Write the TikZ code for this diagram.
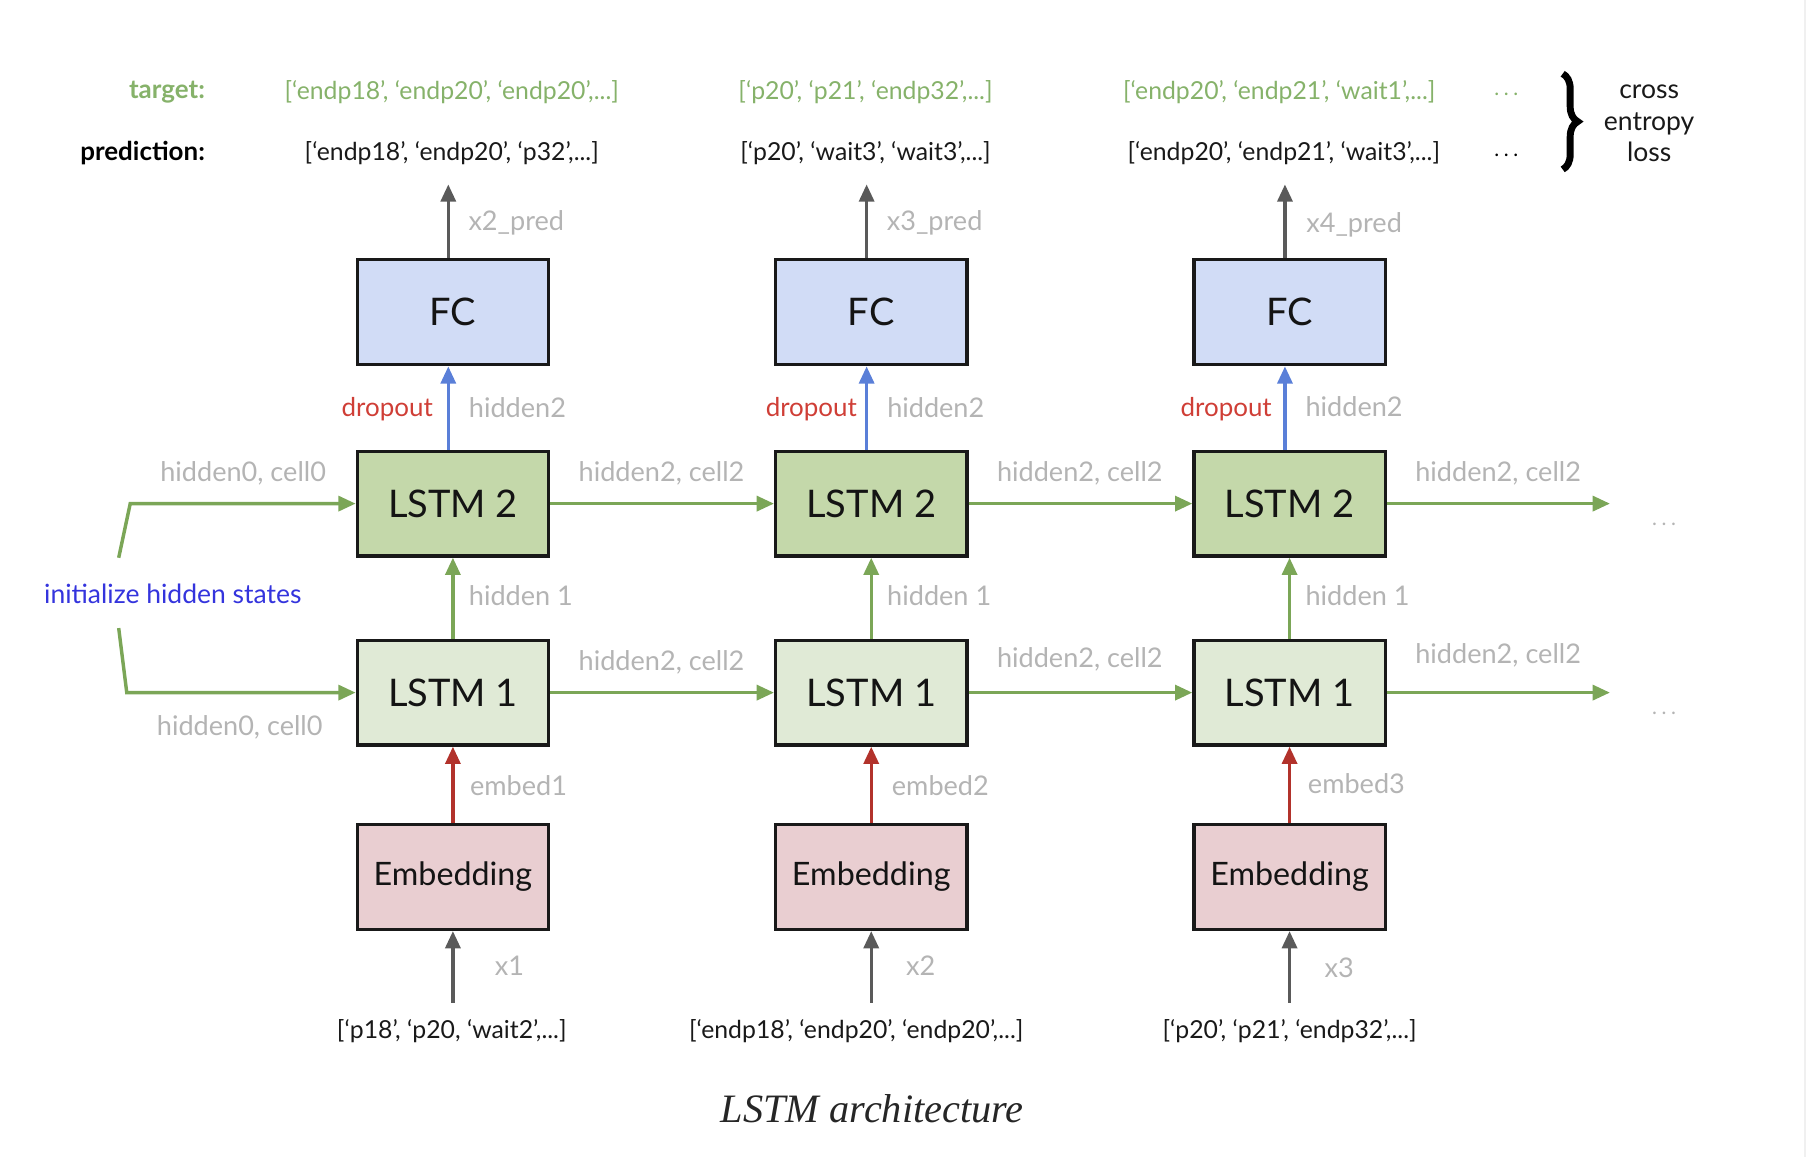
\documentclass[tikz,border=0pt]{standalone}
\usepackage{fontspec}
\setmainfont{Lato}
\newfontfamily\capfont{Liberation Serif}
\usetikzlibrary{arrows.meta,decorations.pathreplacing}
\definecolor{fcfill}{HTML}{D1DCF6}
\definecolor{ltwofill}{HTML}{C4D8AA}
\definecolor{lonefill}{HTML}{E0EAD6}
\definecolor{embfill}{HTML}{E9CED1}
\definecolor{garrow}{HTML}{7BA657}
\definecolor{barrow}{HTML}{5A7FD8}
\definecolor{rarrow}{HTML}{B2322B}
\definecolor{karrow}{HTML}{5A5A5A}
\definecolor{lblgray}{HTML}{B4B4B4}
\definecolor{tgreen}{HTML}{86B26A}
\definecolor{dred}{HTML}{CF3E36}
\definecolor{iblue}{HTML}{3434DD}
\begin{document}
\begin{tikzpicture}[x=1pt,y=-1pt,
  box/.style={draw=black!90, line width=2.8pt, minimum width=166pt, minimum height=91pt, inner sep=0pt, font=\fontsize{33}{38}\selectfont, text=black!92},
  fcbox/.style={box, fill=fcfill},
  ltwobox/.style={box, fill=ltwofill},
  lonebox/.style={box, fill=lonefill},
  embbox/.style={box, fill=embfill, font=\fontsize{28}{32}\selectfont},
  arr/.style={line width=3pt, -{Triangle[length=15pt,width=13pt]}},
  garr/.style={arr, draw=garrow},
  barr/.style={arr, draw=barrow},
  rarr/.style={arr, draw=rarrow},
  karr/.style={arr, draw=karrow},
  lbl/.style={text=lblgray, font=\fontsize{23.5}{28}\selectfont, inner sep=0pt, yshift=-2pt},
  lst/.style={text=black!90, font=\fontsize{21.5}{26}\selectfont, inner sep=0pt, yshift=-2pt},
  tlst/.style={lst, text=tgreen},
  drop/.style={lbl, text=dred, font=\fontsize{22.5}{28}\selectfont},
  dots/.style={lbl, font=\fontsize{18}{20}\selectfont}
]
\useasboundingbox (0,0) rectangle (1568,1004);
\draw[gray!12, line width=2pt] (1566,0) -- (1566,1004);

% boxes
\foreach \i/\x in {1/393,2/756,3/1119}{
  \node[fcbox] (fc\i) at (\x,271) {FC};
  \node[ltwobox] (ltwo\i) at (\x,437) {LSTM 2};
  \node[lonebox] (lone\i) at (\x,601) {LSTM 1};
  \node[embbox] (emb\i) at (\x,761) {Embedding};
  \coordinate (out\i) at (\x-4,160);
  \coordinate (in\i) at (\x,870);
  \draw[karr] (out\i |- fc\i.north) -- (out\i);
  \draw[barr] (out\i |- ltwo\i.north) -- (out\i |- fc\i.south);
  \draw[garr] (lone\i.north) -- (ltwo\i.south);
  \draw[rarr] (emb\i.north) -- (lone\i.south);
  \draw[karr] (in\i) -- (emb\i.south);
}
% horizontal
\draw[garr] (ltwo1.east) -- (ltwo2.west);
\draw[garr] (ltwo2.east) -- (ltwo3.west);
\coordinate (rtwo) at (1397,437);
\draw[garr] (ltwo3.east) -- (rtwo);
\draw[garr] (lone1.east) -- (lone2.west);
\draw[garr] (lone2.east) -- (lone3.west);
\coordinate (rone) at (1397,601);
\draw[garr] (lone3.east) -- (rone);
% init
\coordinate (ia) at (103,484);
\coordinate (ib) at (113,437);
\coordinate (ic) at (103,545);
\coordinate (id) at (110,601);
\draw[garr] (ia) -- (ib) -- (ltwo1.west);
\draw[garr] (ic) -- (id) -- (lone1.west);
\node[inner sep=0pt, text=iblue, font=\fontsize{23}{28}\selectfont, yshift=-1pt] (init) at (150,514) {initialize hidden states};

% labels
\node[lbl] (hc0a) at (211,409) {hidden0, cell0};
\node[lbl] (hc0b) at (208,629) {hidden0, cell0};
\node[lbl] (hctwoa) at (574,409) {hidden2, cell2};
\node[lbl] (hctwob) at (937,409) {hidden2, cell2};
\node[lbl] (hctwoc) at (1300,409) {hidden2, cell2};
\node[lbl] (hconea) at (574,573) {hidden2, cell2};
\node[lbl] (hconeb) at (937,570) {hidden2, cell2};
\node[lbl] (hconec) at (1300,567) {hidden2, cell2};
\node[drop] (dra) at (336,353) {dropout};
\node[drop] (drb) at (704,353) {dropout};
\node[drop] (drc) at (1064,353) {dropout};
\node[lbl] (hta) at (449,352) {hidden2};
\node[lbl] (htb) at (812,352) {hidden2};
\node[lbl] (htc) at (1175,351) {hidden2};
\node[lbl] (hoa) at (452,515) {hidden 1};
\node[lbl] (hob) at (815,515) {hidden 1};
\node[lbl] (hoc) at (1178,515) {hidden 1};
\node[lbl] (ema) at (450,680) {embed1};
\node[lbl] (emb) at (816,680) {embed2};
\node[lbl] (emc) at (1177,678) {embed3};
\node[lbl] (xa) at (442,836) {x1};
\node[lbl] (xb) at (799,836) {x2};
\node[lbl] (xc) at (1162,838) {x3};
\node[lbl] (pa) at (448,191) {x2\_pred};
\node[lbl] (pb) at (811,191) {x3\_pred};
\node[lbl] (pc) at (1175,193) {x4\_pred};
% inputs
\node[lst] (inpa) at (392,893) {[‘p18’, ‘p20, ‘wait2’,...]};
\node[lst] (inpb) at (743,893) {[‘endp18’, ‘endp20’, ‘endp20’,...]};
\node[lst] (inpc) at (1119,893) {[‘p20’, ‘p21’, ‘endp32’,...]};
% target / prediction
\node[inner sep=0pt, text=tgreen, font=\bfseries\fontsize{22.5}{26}\selectfont, anchor=east, yshift=-2pt] (tgt) at (178,78) {target:};
\node[inner sep=0pt, text=black, font=\bfseries\fontsize{22.5}{26}\selectfont, anchor=east, yshift=-2pt] (prd) at (178,131) {prediction:};
\node[tlst] (ta) at (392,78) {[‘endp18’, ‘endp20’, ‘endp20’,...]};
\node[tlst] (tb) at (751,78) {[‘p20’, ‘p21’, ‘endp32’,...]};
\node[tlst] (tc) at (1110,78) {[‘endp20’, ‘endp21’, ‘wait1’,...]};
\node[lst] (pra) at (392,131) {[‘endp18’, ‘endp20’, ‘p32’,...]};
\node[lst] (prb) at (751,131) {[‘p20’, ‘wait3’, ‘wait3’,...]};
\node[lst] (prc) at (1114,131) {[‘endp20’, ‘endp21’, ‘wait3’,...]};
\node[dots, text=tgreen] (td) at (1307,80) {.\hspace{4pt}.\hspace{4pt}.};
\node[dots, text=black] (pd) at (1307,133) {.\hspace{4pt}.\hspace{4pt}.};
\node[dots] (dtwo) at (1444,453) {.\hspace{4pt}.\hspace{4pt}.};
\node[dots] (done) at (1444,617) {.\hspace{4pt}.\hspace{4pt}.};
% brace
\draw[line width=6pt, decorate, decoration={brace, amplitude=13pt}] (1356,64) -- (1356,147);
\node[inner sep=0pt, align=center, text=black!90, font=\fontsize{23}{27}\selectfont] (cel) at (1431,107) {cross\\entropy\\loss};
% caption
\node[inner sep=0pt, text=black!85, font=\capfont\itshape\fontsize{35}{40}\selectfont] (cap) at (757,962) {LSTM architecture};
\end{tikzpicture}
\end{document}
